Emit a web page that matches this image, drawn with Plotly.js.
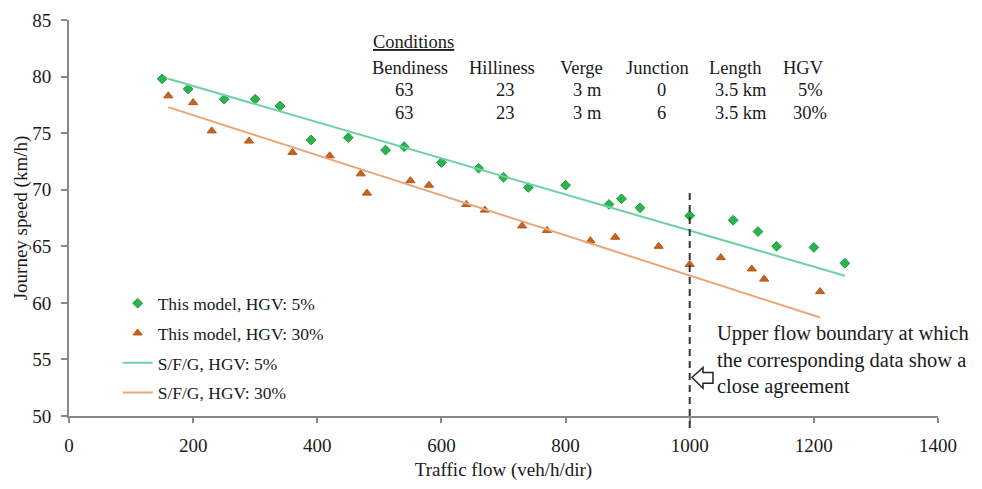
<!DOCTYPE html>
<html>
<head>
<meta charset="utf-8">
<script src="https://cdn.plot.ly/plotly-3.0.1.min.js"></script>
<style>html,body{margin:0;padding:0;background:#fff;}#chart{width:982px;height:489px;}</style>
</head>
<body>
<div id="chart"></div>
<script>
// Data
var modelFlow5  = [150,192,250,300,340,390,450,510,540,600,660,700,740,800,870,890,920,1000,1070,1110,1140,1200,1250];
var modelSpeed5 = [79.8,78.9,78.0,78.0,77.4,74.4,74.6,73.5,73.8,72.4,71.9,71.1,70.2,70.4,68.7,69.2,68.4,67.7,67.3,66.3,65.0,64.9,63.5];
var modelFlow30  = [160,200,230,290,360,420,470,480,550,580,640,670,730,770,840,880,950,1000,1050,1100,1120,1210];
var modelSpeed30 = [78.3,77.7,75.2,74.3,73.3,73.0,71.4,69.7,70.8,70.4,68.7,68.2,66.8,66.4,65.5,65.8,65.0,63.4,64.0,63.0,62.1,61.0];
var sfgFlow5  = [160,1250];
var sfgSpeed5 = [79.8,62.4];
var sfgFlow30  = [160,1210];
var sfgSpeed30 = [77.3,58.7];
var boundaryFlow = 1000;

var xTicks = [0,200,400,600,800,1000,1200,1400];
var yTicks = [50,55,60,65,70,75,80,85];

var condTitle = "Conditions";
var condHeaders = ["Bendiness","Hilliness","Verge","Junction","Length","HGV"];
var condRow1 = ["63","23","3 m","0","3.5 km","5%"];
var condRow2 = ["63","23","3 m","6","3.5 km","30%"];
var noteText = "Upper flow boundary at which<br>the corresponding data show a<br>close agreement";

var legendNames = ["This model, HGV: 5%","This model, HGV: 30%","S/F/G, HGV: 5%","S/F/G, HGV: 30%"];

var FONT = "Liberation Serif, Times New Roman, serif";
var TXT = "#1a1a1a";

var traces = [
  {x: modelFlow5, y: modelSpeed5, mode: "markers", type: "scatter", name: legendNames[0], legendgroup:"a",
   marker: {symbol: "diamond", size: 7.5, color: "#2db34e", line: {color: "#1f9a3e", width: 1}}},
  {x: modelFlow30, y: modelSpeed30, mode: "markers", type: "scatter", name: legendNames[1], legendgroup:"b",
   marker: {symbol: "triangle-up", size: 8, color: "#c8621c", line: {color: "#b5561a", width: 1}}},
  {x: sfgFlow5, y: sfgSpeed5, mode: "lines", type: "scatter", name: legendNames[2], legendgroup:"c",
   line: {color: "#6fd0a6", width: 2}},
  {x: sfgFlow30, y: sfgSpeed30, mode: "lines", type: "scatter", name: legendNames[3], legendgroup:"d",
   line: {color: "#e9a578", width: 2}}
];

var colCenters = [549, 698, 825, 948, 1073, 1183];
var valCenters = [541, 704, 836, 955, 1083, 1194];
var annotations = [];
annotations.push({x: 487, y: 83.1, xref: "x", yref: "y", text: "<u>" + condTitle + "</u>", showarrow: false,
  xanchor: "left", yanchor: "middle", font: {family: FONT, size: 18.5, color: TXT}});
condHeaders.forEach(function(h, i){
  annotations.push({x: colCenters[i], y: 80.8, xref:"x", yref:"y", text: h, showarrow:false,
    xanchor:"center", yanchor:"middle", font:{family:FONT, size:18.5, color:TXT}});
});
[condRow1, condRow2].forEach(function(row, r){
  row.forEach(function(v, i){
    annotations.push({x: valCenters[i], y: r === 0 ? 78.8 : 76.8, xref:"x", yref:"y", text: v, showarrow:false,
      xanchor:"center", yanchor:"middle", font:{family:FONT, size:18.5, color:TXT}});
  });
});
annotations.push({x: 1040, y: 54.95, xref:"x", yref:"y", text: noteText, showarrow:false, align:"left",
  xanchor:"left", yanchor:"middle", font:{family:FONT, size:20.5, color:TXT}});

var shapes = [
  {type:"line", xref:"x", yref:"paper", x0: boundaryFlow, x1: boundaryFlow, y0: -0.03, y1: (69.8-50)/35,
   line:{color:"#333", width:2, dash:"7px,5px"}},
  {type:"path", xref:"x", yref:"y",
   path: "M 1003.7 53.4 L 1021.4 54.3 L 1021.4 53.85 L 1037.5 53.85 L 1037.5 52.9 L 1021.4 52.9 L 1021.4 52.45 Z",
   line:{color:"#222", width:1.5}, fillcolor:"rgba(255,255,255,1)"}
];

var layout = {
  width: 982, height: 489,
  margin: {l: 69, r: 44, t: 20, b: 73},
  paper_bgcolor: "#fff", plot_bgcolor: "#fff",
  font: {family: FONT, size: 19, color: TXT},
  showlegend: true,
  legend: {x: 0.056, y: 0.33, xanchor: "left", yanchor: "top", bgcolor: "rgba(255,255,255,0)",
    font: {family: FONT, size: 17.5, color: TXT}, traceorder: "grouped", tracegroupgap: 4},
  xaxis: {range: [0, 1400], tickvals: xTicks, ticktext: xTicks.map(String), showgrid: false, zeroline: false,
    showline: true, linecolor: "#888", linewidth: 2, ticks: "outside", ticklen: 5, tickcolor: "#888", tickwidth: 2,
    tickfont: {family: FONT, size: 19, color: TXT}, ticklabelstandoff: 6,
    title: {text: "Traffic flow (veh/h/dir)", font: {family: FONT, size: 19, color: TXT}, standoff: 8}},
  yaxis: {range: [50, 85], tickvals: yTicks, ticktext: yTicks.map(String), showgrid: false, zeroline: false,
    showline: true, linecolor: "#888", linewidth: 2, ticks: "outside", ticklen: 6, tickcolor: "#888", tickwidth: 2,
    tickfont: {family: FONT, size: 19, color: TXT}, ticklabelstandoff: 6,
    title: {text: "Journey speed (km/h)", font: {family: FONT, size: 19, color: TXT}, standoff: 0}},
  annotations: annotations,
  shapes: shapes
};

Plotly.newPlot("chart", traces, layout, {displayModeBar: false, staticPlot: true});
</script>
</body>
</html>
